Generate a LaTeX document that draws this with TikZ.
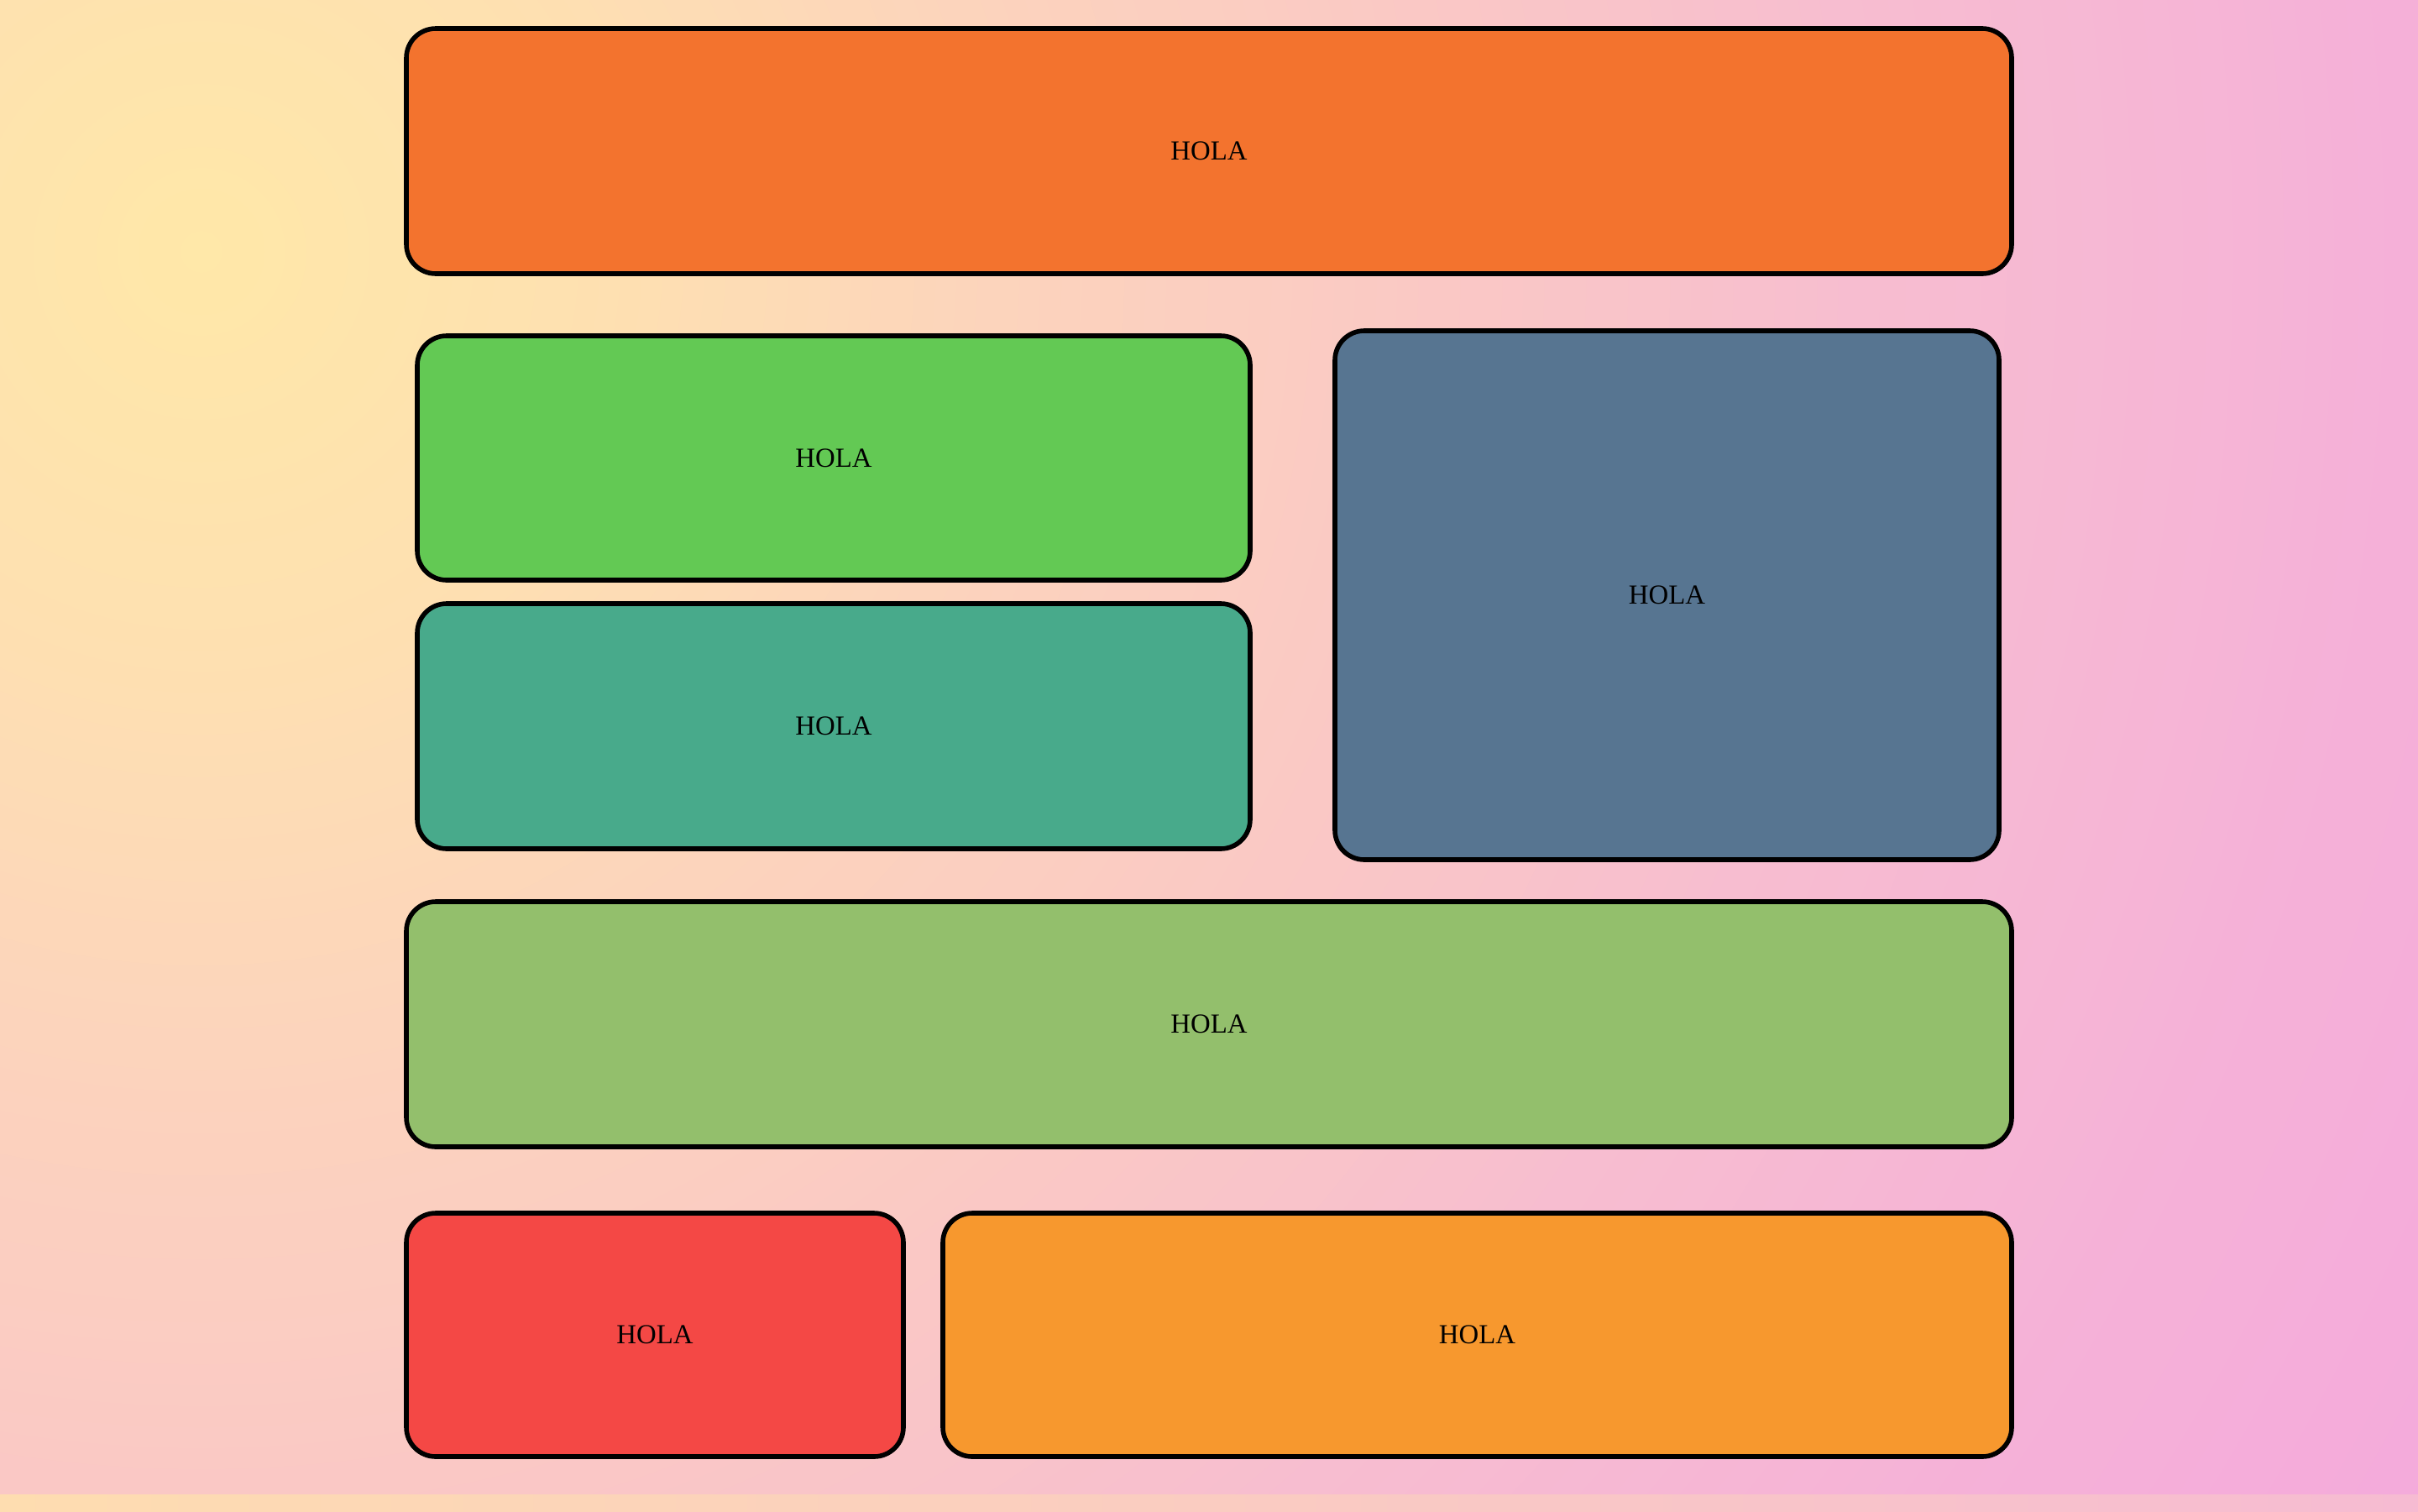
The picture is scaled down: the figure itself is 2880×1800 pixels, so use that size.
\documentclass[tikz,border=0pt]{standalone}
\usepackage{fontspec}
\setmainfont{Liberation Serif}
\definecolor{bgA}{HTML}{FFE8A8}
\definecolor{bgB}{HTML}{FEE0B1}
\definecolor{bgC}{HTML}{FCD3BD}
\definecolor{bgD}{HTML}{FAC8C5}
\definecolor{bgE}{HTML}{F7BDD0}
\definecolor{bgF}{HTML}{F5B1D8}
\definecolor{bgG}{HTML}{F4A8DC}
\definecolor{cTop}{HTML}{F3732E}
\definecolor{cGreen}{HTML}{63C954}
\definecolor{cTeal}{HTML}{48AA8B}
\definecolor{cBlue}{HTML}{577591}
\definecolor{cLight}{HTML}{93BF6C}
\definecolor{cRed}{HTML}{F44845}
\definecolor{cOrange}{HTML}{F7982E}
\definecolor{stripL}{HTML}{FEDDB0}
\definecolor{stripR}{HTML}{F6BBD2}
\tikzset{
  box/.style={draw=black, line width=1.4pt, rounded corners=8.75pt,
    font=\fontsize{8.2}{9.8}\selectfont, text=black, inner sep=0pt}
}
\begin{document}
\begin{tikzpicture}[x=0.25pt,y=-0.25pt]
\useasboundingbox (0,0) rectangle (2880,1800);
\begin{scope}
\clip (0,0) rectangle (2880,1780);
\fill[bgG] (0,0) rectangle (2880,1780);
\foreach \ri/\ro/\ci/\co in {2600/3200/bgF/bgG, 2000/2600/bgE/bgF, 1500/2000/bgD/bgE, 1000/1500/bgC/bgD, 500/1000/bgB/bgC, 0/500/bgA/bgB}{
  \foreach \k in {0,...,19}{
    \pgfmathsetmacro\rr{\ro-(\ro-\ri)*\k/20}
    \pgfmathtruncatemacro\pp{\k*5}
    \fill[\ci!\pp!\co] (240,300) circle[radius=\rr*0.25pt];
  }
}
\end{scope}
\shade[left color=stripL, right color=stripR] (0,1780) rectangle (2880,1800);

\node[box, fill=cTop, minimum width=478pt, minimum height=73pt] (top) at (1440,180) {HOLA};
\node[box, fill=cGreen, minimum width=248pt, minimum height=72.75pt] (green) at (993,545.5) {HOLA};
\node[box, fill=cTeal, minimum width=248pt, minimum height=73pt] (teal) at (993,865) {HOLA};
\node[box, fill=cBlue, minimum width=197.75pt, minimum height=157.5pt] (blue) at (1985.5,709) {HOLA};
\node[box, fill=cLight, minimum width=478pt, minimum height=73pt] (light) at (1440,1220) {HOLA};
\node[box, fill=cRed, minimum width=148pt, minimum height=72.5pt] (red) at (780,1590) {HOLA};
\node[box, fill=cOrange, minimum width=318.25pt, minimum height=72.5pt] (orange) at (1759.5,1590) {HOLA};
\end{tikzpicture}
\end{document}
